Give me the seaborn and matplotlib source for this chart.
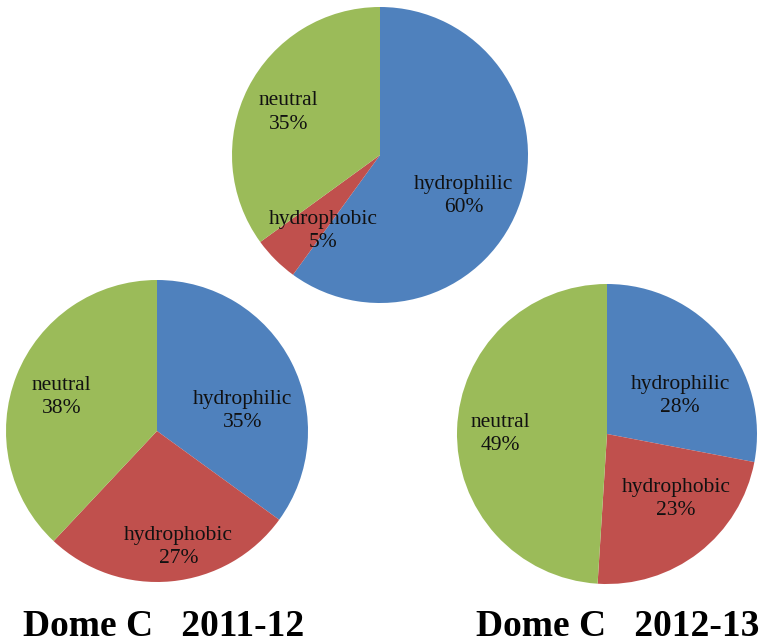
import numpy as np
import matplotlib
matplotlib.use("Agg")
import matplotlib.pyplot as plt
import seaborn as sns

sns.set_theme(style="white")
plt.rcParams["font.family"] = ["Liberation Serif", "DejaVu Serif"]

# Water-soluble organic fractions
categories = ["hydrophilic", "hydrophobic", "neutral"]
shares_mean = [60, 5, 35]
shares_2011 = [35, 27, 38]
shares_2012 = [28, 23, 49]
titles = ["", "Dome C   2011-12", "Dome C   2012-13"]

colors = ["#4F81BD", "#C0504D", "#9BBB59"]

W, H = 769, 644
fig = plt.figure(figsize=(W / 100, H / 100), dpi=100)


def pie_axes(cx, cy, r):
    return fig.add_axes([(cx - r) / W, (H - cy - r) / H, 2 * r / W, 2 * r / H])


# label anchor per slice (radial fraction, angle shift in degrees from slice middle)
label_layout = [
    [(0.63, -8), (0.64, 8), (0.68, 2)],
    [(0.58, -14), (0.78, 5), (0.67, 2)],
    [(0.55, -12), (0.63, 9), (0.71, 2)],
]

axes = [pie_axes(380, 155, 148), pie_axes(157, 431, 151), pie_axes(607, 434, 150)]
data = [shares_mean, shares_2011, shares_2012]

for ax, vals, layout in zip(axes, data, label_layout):
    wedges, _ = ax.pie(vals, colors=colors, startangle=90, counterclock=False,
                       radius=1, wedgeprops=dict(linewidth=0))
    for w, name, v, (rf, dth) in zip(wedges, categories, vals, layout):
        mid = np.deg2rad((w.theta1 + w.theta2) / 2 + dth)
        ax.text(rf * np.cos(mid), rf * np.sin(mid), f"{name}\n{v}%",
                ha="center", va="center", fontsize=15.5, color="#111111",
                linespacing=1.3)
    ax.set_xlim(-1, 1)
    ax.set_ylim(-1, 1)
    ax.set_aspect("equal")
    ax.axis("off")

fig.text(164 / W, 1 - 626 / H, titles[1], ha="center", va="center",
         fontsize=27, fontweight="bold", color="black")
fig.text(618 / W, 1 - 626 / H, titles[2], ha="center", va="center",
         fontsize=27, fontweight="bold", color="black")

fig.savefig("out.png", dpi=100, facecolor="white")
